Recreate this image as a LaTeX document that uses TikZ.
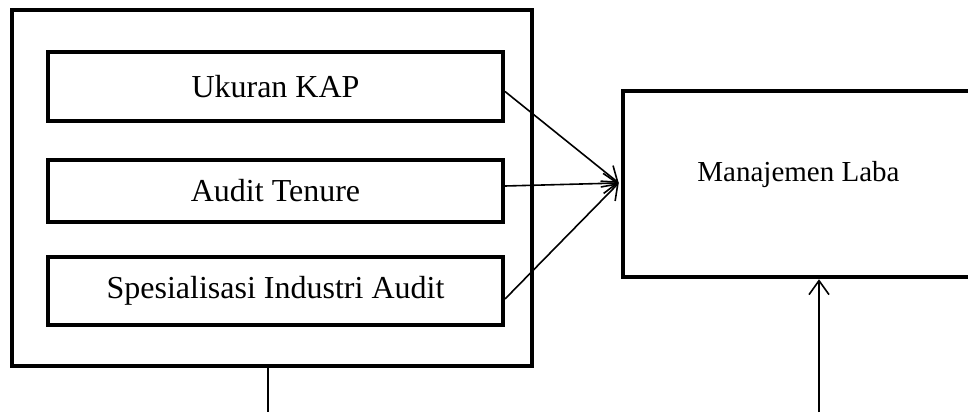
\documentclass[tikz,border=0pt]{standalone}
\usepackage{fontspec}
\setmainfont{Liberation Serif}
\usetikzlibrary{arrows.meta}

\begin{document}
\begin{tikzpicture}[x=1pt,y=-1pt,
    varbox/.style={draw,line width=4pt,minimum width=455pt,inner sep=0pt,
      font=\fontsize{32pt}{36pt}\selectfont},
    bigbox/.style={draw,line width=4.5pt,inner sep=0pt},
    link/.style={line width=1.6pt,-{Straight Barb[length=14pt,width=20pt,line width=1.6pt]}}]
    \useasboundingbox (0,0) rectangle (968,412);

    \node[bigbox,minimum width=520pt,minimum height=356pt] (outer) at (272,188) {};
    \node[varbox,minimum height=69pt] (1) at (275.5,86.5) {Ukuran KAP};
    \node[varbox,minimum height=62pt] (2) at (275.5,191) {Audit Tenure};
    \node[varbox,minimum height=68pt] (3) at (275.5,291) {Spesialisasi Industri Audit};
    \node[bigbox,minimum width=377pt,minimum height=186pt,
      label={[font=\fontsize{29pt}{34pt}\selectfont,xshift=-13pt,yshift=9pt]center:Manajemen Laba}]
      (4) at (811.5,184) {};

    \coordinate (a) at (268,412);
    \coordinate (b) at (819,412);

    \path
    ([yshift=-5pt]1.east) edge [link] ([xshift=-2pt,yshift=1pt]4.west)
    ([yshift=5pt]2.east) edge [link] ([xshift=-2pt,yshift=1pt]4.west)
    ([yshift=-8pt]3.east) edge [link] ([xshift=-2pt,yshift=1pt]4.west)
    (b) edge [link] (b |- 4.south);
    \draw[line width=1.6pt] (outer.south -| a) -- (a);
  \end{tikzpicture}
\end{document}
